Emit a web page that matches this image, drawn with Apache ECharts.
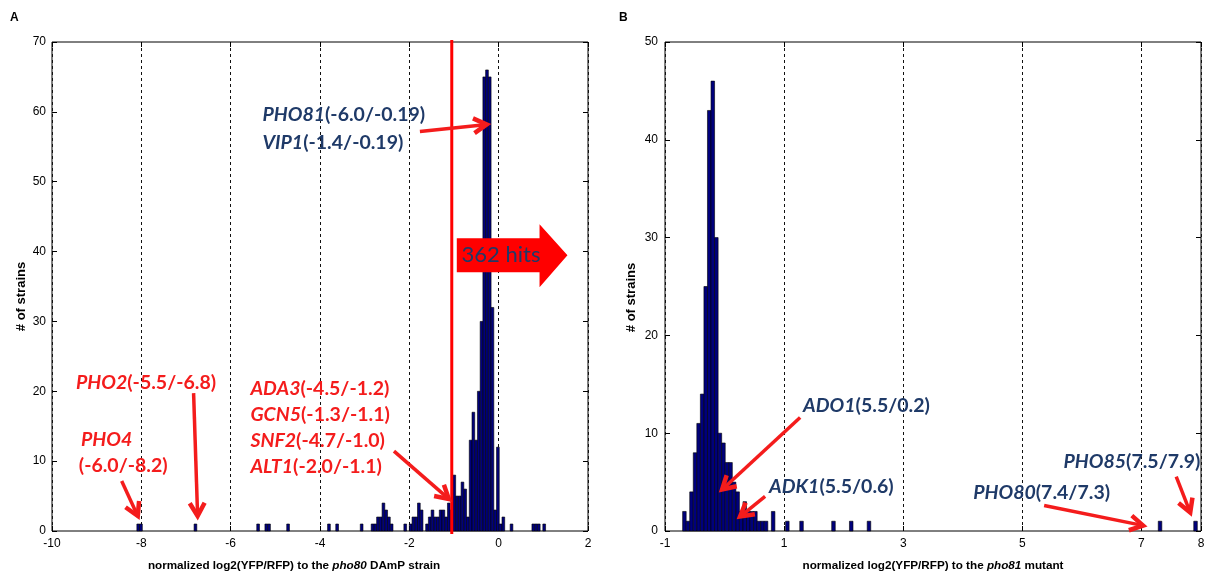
<!DOCTYPE html>
<html>
<head>
<meta charset="utf-8">
<script src="https://cdn.jsdelivr.net/npm/echarts@6/dist/echarts.min.js"></script>
<style>
  html, body { margin: 0; padding: 0; background: #fff; }
  #chart { width: 1209px; height: 582px; }
</style>
</head>
<body>
<div id="chart"></div>
<script>
// ---- Panel A: pho80 DAmP screen, histogram bins ----
const aEdge0 = -8.10;          // left edge of the first bin
const aBinWidth = 0.061;       // bin width (log2 units)
const aBinIndex = [0, 1, 21, 44, 47, 48, 55, 70, 73, 82,
  86, 87, 88, 89, 90, 91, 92, 93, 98, 100, 101, 102, 103, 104,
  106, 107, 108, 109, 110, 111, 112, 113, 114, 115,
  116, 117, 118, 119, 120, 121, 122, 123, 124, 125, 126, 127, 128, 129, 130,
  131, 132, 133, 134, 137, 145, 146, 147, 149];
const aBinCount = [1, 1, 1, 1, 1, 1, 1, 1, 1, 1,
  1, 1, 2, 2, 4, 3, 2, 1, 1, 1, 2, 2, 4, 3,
  1, 2, 3, 2, 2, 3, 3, 2, 4, 3,
  8, 5, 5, 7, 6, 2, 13, 17, 13, 20, 30, 65, 66, 65, 32,
  3, 12, 1, 2, 1, 1, 1, 1, 1];
const aThreshold = -1.05;
const aHits = '362 hits';

// ---- Panel B: pho81 mutant screen, histogram bins ----
const bEdge0 = -0.704;
const bBinWidth = 0.0596;
const bBinIndex = [0, 1, 2, 3, 4, 5, 6, 7, 8, 9, 10, 11, 12, 13, 14, 15, 16, 17,
  18, 19, 20, 21, 22, 23, 25, 29, 33, 42, 47, 52, 134, 144];
const bBinCount = [2, 1, 4, 8, 11, 14, 25, 43, 46, 30, 10, 9, 7, 7, 5, 4, 2, 3,
  2, 2, 2, 1, 1, 1, 2, 1, 1, 1, 1, 1, 1, 1];

// ---- Axis ticks ----
const aXTicks = { min: -10, max: 2, interval: 2 };
const aYTicks = { min: 0, max: 70, interval: 10 };
const bXLabels = [-1, 1, 3, 5, 7, 8];
const bYTicks = { min: 0, max: 50, interval: 10 };

// ---- Annotations ----
const NAVY = '#1f3a68';
const RED = '#f41c1c';
const aNotes = [
  { at: [-5.29, 59.66], gene: 'PHO81', text: '(-6.0/-0.19)', color: NAVY },
  { at: [-5.29, 55.65], gene: 'VIP1', text: '(-1.4/-0.19)', color: NAVY },
  { at: [-9.464, 21.17], gene: 'PHO2', text: '(-5.5/-6.8)', color: RED },
  { at: [-9.353, 13.02], gene: 'PHO4', text: '', color: RED },
  { at: [-9.40, 9.30], gene: '', text: '(-6.0/-8.2)', color: RED },
  { at: [-5.558, 20.31], gene: 'ADA3', text: '(-4.5/-1.2)', color: RED },
  { at: [-5.558, 16.60], gene: 'GCN5', text: '(-1.3/-1.1)', color: RED },
  { at: [-5.558, 12.88], gene: 'SNF2', text: '(-4.7/-1.0)', color: RED },
  { at: [-5.558, 9.16], gene: 'ALT1', text: '(-2.0/-1.1)', color: RED }
];
const aArrows = [
  [-1.763, 57.2, -0.268, 58.2],
  [-6.83, 19.74, -6.74, 2.15],
  [-8.44, 7.15, -8.08, 2.15],
  [-2.344, 11.44, -1.116, 4.58]
];
const bNotes = [
  { at: [1.319, 12.83], gene: 'ADO1', text: '(5.5/0.2)', color: NAVY },
  { at: [0.748, 4.55], gene: 'ADK1', text: '(5.5/0.6)', color: NAVY },
  { at: [5.69, 7.11], gene: 'PHO85', text: '(7.5/7.9)', color: NAVY },
  { at: [4.174, 3.94], gene: 'PHO80', text: '(7.4/7.3)', color: NAVY }
];
const bArrows = [
  [1.269, 11.6, -0.041, 4.24],
  [0.681, 3.53, 0.261, 1.48],
  [7.584, 5.57, 7.819, 1.89],
  [5.366, 2.61, 7.028, 0.56]
];
// block arrow marking the hits to the right of the threshold
const hitsArrow = {
  body: [-0.9375, 0.915, 41.92, 37.05],  // x0, x1, yTop, yBottom
  head: [0.915, 43.92, 34.91, 1.54, 39.48], // x, yTop, yBottom, tipX, tipY
  textAt: [-0.83, 39.48]
};

function binsToData(edge0, width, idx, cnt) {
  return idx.map((k, i) => [edge0 + k * width, edge0 + (k + 1) * width, cnt[i]]);
}

const LABEL_FONT = 'Lato, "Open Sans", sans-serif';
const TICK_FONT = '"Liberation Sans", Arial, sans-serif';

function histItem(params, api) {
  const p0 = api.coord([api.value(0), 0]);
  const p1 = api.coord([api.value(1), api.value(2)]);
  return {
    type: 'rect',
    shape: { x: p0[0], y: p1[1], width: p1[0] - p0[0], height: p0[1] - p1[1] },
    style: { fill: '#00007c', stroke: '#000', lineWidth: 0.6 }
  };
}

function noteRenderer(notes) {
  return function (params, api) {
    const n = notes[params.dataIndex];
    const p = api.coord([api.value(0), api.value(1)]);
    let text = '';
    if (n.gene) text += '{g|' + n.gene + '}';
    if (n.text) text += '{n|' + n.text + '}';
    const base = { fontFamily: LABEL_FONT, fontSize: 19.5, fontWeight: 'bold', fill: n.color };
    return {
      type: 'text',
      x: p[0], y: p[1],
      style: {
        text: text,
        align: 'left',
        verticalAlign: 'middle',
        rich: {
          g: Object.assign({}, base, { fontStyle: 'italic' }),
          n: Object.assign({}, base)
        }
      }
    };
  };
}

function arrowItem(params, api) {
  const p1 = api.coord([api.value(0), api.value(1)]);
  const p2 = api.coord([api.value(2), api.value(3)]);
  const dx = p2[0] - p1[0], dy = p2[1] - p1[1];
  const len = Math.hypot(dx, dy) || 1;
  const ux = dx / len, uy = dy / len;
  const L = 15, a = 0.52;
  const c = Math.cos(a), s = Math.sin(a);
  const h1 = [p2[0] - L * (ux * c - uy * s), p2[1] - L * (uy * c + ux * s)];
  const h2 = [p2[0] - L * (ux * c + uy * s), p2[1] - L * (uy * c - ux * s)];
  return {
    type: 'group',
    children: [
      { type: 'line', shape: { x1: p1[0], y1: p1[1], x2: p2[0] - ux * 2, y2: p2[1] - uy * 2 },
        style: { stroke: RED, lineWidth: 3.5 } },
      { type: 'polyline', shape: { points: [h1, [p2[0], p2[1]], h2] },
        style: { stroke: RED, lineWidth: 4.5, fill: null, lineJoin: 'miter' } }
    ]
  };
}

function thresholdItem(params, api) {
  const p0 = api.coord([api.value(0), aYTicks.min]);
  const p1 = api.coord([api.value(0), aYTicks.max]);
  return {
    type: 'line',
    shape: { x1: p0[0], y1: p0[1] + 3, x2: p1[0], y2: p1[1] - 2 },
    style: { stroke: '#ff0000', lineWidth: 3 }
  };
}

function hitsItem(params, api) {
  const b = hitsArrow.body, h = hitsArrow.head;
  const pts = [
    [b[0], b[2]], [h[0], b[2]], [h[0], h[1]], [h[3], h[4]],
    [h[0], h[2]], [h[0], b[3]], [b[0], b[3]]
  ].map(q => api.coord(q));
  const t = api.coord(hitsArrow.textAt);
  return {
    type: 'group',
    children: [
      { type: 'polygon', shape: { points: pts }, style: { fill: '#ff0000' } },
      { type: 'text', x: t[0], y: t[1],
        style: { text: aHits, align: 'left', verticalAlign: 'middle',
                 fontFamily: LABEL_FONT, fontSize: 22, fill: NAVY } }
    ]
  };
}

const axisName = {
  fontFamily: TICK_FONT, fontSize: 11.7, fontWeight: 'bold', color: '#000',
  rich: { i: { fontFamily: TICK_FONT, fontSize: 11.7, fontWeight: 'bold', fontStyle: 'italic', color: '#000' } }
};
const tickLabel = { fontFamily: TICK_FONT, fontSize: 12, color: '#000' };
const dashed = { show: true, lineStyle: { color: '#111', width: 1, type: [3, 3] } };
const innerTick = { show: true, inside: true, length: 5, lineStyle: { color: '#000', width: 1 } };
const noLine = { show: false, onZero: false };

function mirrorAxis(grid, range, pos) {
  return Object.assign({ gridIndex: grid, type: 'value', position: pos,
    axisLine: noLine, axisTick: innerTick, axisLabel: { show: false },
    splitLine: { show: false } }, range);
}

const option = {
  animation: false,
  backgroundColor: '#fff',
  grid: [
    { left: 52, top: 42, width: 536, height: 489, show: true, borderColor: '#000', borderWidth: 1, backgroundColor: 'transparent' },
    { left: 665, top: 42, width: 536, height: 489, show: true, borderColor: '#000', borderWidth: 1, backgroundColor: 'transparent' }
  ],
  xAxis: [
    Object.assign({ gridIndex: 0, type: 'value', position: 'bottom',
      axisLine: noLine, axisTick: innerTick,
      axisLabel: Object.assign({ margin: 7 }, tickLabel),
      splitLine: dashed,
      name: 'normalized log2(YFP/RFP) to the {i|pho80} DAmP strain',
      nameLocation: 'middle', nameGap: 29,
      nameTextStyle: Object.assign({ padding: [0, 52, 0, 0] }, axisName) }, aXTicks),
    mirrorAxis(0, aXTicks, 'top'),
    { gridIndex: 1, type: 'value', position: 'bottom', min: -1, max: 8, interval: 2,
      axisLine: noLine,
      axisTick: Object.assign({}, innerTick, { customValues: bXLabels }),
      axisLabel: Object.assign({ margin: 7, customValues: bXLabels }, tickLabel),
      splitLine: dashed,
      name: 'normalized log2(YFP/RFP) to the {i|pho81} mutant',
      nameLocation: 'middle', nameGap: 29,
      nameTextStyle: axisName },
    mirrorAxis(1, { min: -1, max: 8, interval: 2 }, 'top')
  ],
  yAxis: [
    Object.assign({ gridIndex: 0, type: 'value', position: 'left',
      axisLine: noLine, axisTick: innerTick,
      axisLabel: Object.assign({ margin: 6 }, tickLabel),
      splitLine: { show: false },
      name: '# of strains', nameLocation: 'middle', nameGap: 24, nameRotate: 90,
      nameTextStyle: Object.assign({ padding: [0, 20, 0, 0] }, axisName, { fontSize: 13 }) }, aYTicks),
    mirrorAxis(0, aYTicks, 'right'),
    Object.assign({ gridIndex: 1, type: 'value', position: 'left',
      axisLine: noLine, axisTick: innerTick,
      axisLabel: Object.assign({ margin: 7 }, tickLabel),
      splitLine: { show: false },
      name: '# of strains', nameLocation: 'middle', nameGap: 27, nameRotate: 90,
      nameTextStyle: Object.assign({ padding: [0, 22, 0, 0] }, axisName, { fontSize: 13 }) }, bYTicks),
    mirrorAxis(1, bYTicks, 'right')
  ],
  graphic: [
    { type: 'text', left: 10, top: 12, style: { text: 'A', font: 'bold 12px "Liberation Sans", Arial', fill: '#000' } },
    { type: 'text', left: 619, top: 12, style: { text: 'B', font: 'bold 12px "Liberation Sans", Arial', fill: '#000' } }
  ],
  series: [
    { type: 'custom', name: 'pho80 DAmP', xAxisIndex: 0, yAxisIndex: 0, silent: true,
      renderItem: histItem, encode: { x: [0, 1], y: 2 },
      data: binsToData(aEdge0, aBinWidth, aBinIndex, aBinCount), z: 2 },
    { type: 'custom', name: 'threshold', xAxisIndex: 0, yAxisIndex: 0, silent: true,
      renderItem: thresholdItem, encode: { x: 0 }, data: [[aThreshold]], z: 3 },
    { type: 'custom', name: 'hits', xAxisIndex: 0, yAxisIndex: 0, silent: true,
      renderItem: hitsItem, encode: { x: 0, y: 1 }, data: [hitsArrow.textAt], z: 4 },
    { type: 'custom', name: 'A arrows', xAxisIndex: 0, yAxisIndex: 0, silent: true,
      renderItem: arrowItem, encode: { x: [0, 2], y: [1, 3] }, data: aArrows, z: 5 },
    { type: 'custom', name: 'A notes', xAxisIndex: 0, yAxisIndex: 0, silent: true,
      renderItem: noteRenderer(aNotes), encode: { x: 0, y: 1 }, data: aNotes.map(n => n.at), z: 5 },
    { type: 'custom', name: 'pho81', xAxisIndex: 2, yAxisIndex: 2, silent: true,
      renderItem: histItem, encode: { x: [0, 1], y: 2 },
      data: binsToData(bEdge0, bBinWidth, bBinIndex, bBinCount), z: 2 },
    { type: 'custom', name: 'B arrows', xAxisIndex: 2, yAxisIndex: 2, silent: true,
      renderItem: arrowItem, encode: { x: [0, 2], y: [1, 3] }, data: bArrows, z: 5 },
    { type: 'custom', name: 'B notes', xAxisIndex: 2, yAxisIndex: 2, silent: true,
      renderItem: noteRenderer(bNotes), encode: { x: 0, y: 1 }, data: bNotes.map(n => n.at), z: 5 }
  ]
};

const chart = echarts.init(document.getElementById('chart'), null, { renderer: 'canvas' });
chart.setOption(option);
</script>
</body>
</html>
